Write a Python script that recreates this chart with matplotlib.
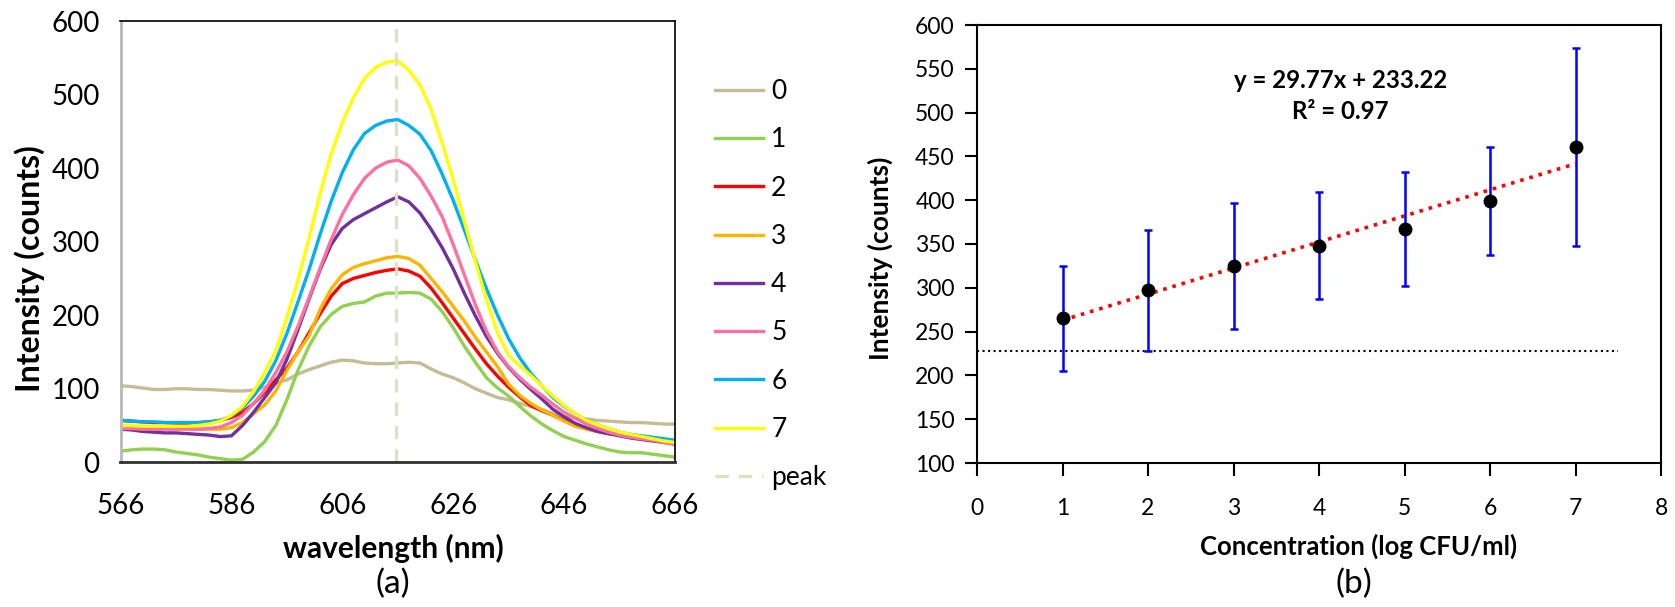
import matplotlib
matplotlib.use("Agg")
import matplotlib.pyplot as plt

plt.rcParams["font.family"] = ["Lato", "DejaVu Sans"]

# ---- (a) emission spectra, 2 nm steps ----
wavelength = list(range(566, 667, 2))

spec_0 = [104, 103, 101, 99, 99, 100, 100, 99, 99, 98, 97, 97, 98, 102, 108, 112, 120, 126,
          131, 136, 139, 138, 135, 134, 134, 135, 136, 135, 127, 120, 115, 108, 100, 94, 88, 85,
          80, 76, 72, 66, 62, 60, 59, 57, 56, 55, 54, 54, 53, 52, 52]
spec_1 = [15, 17, 18, 18, 17, 14, 12, 10, 7, 5, 3, 4, 14, 28, 50, 85, 125, 158,
          184, 201, 212, 216, 218, 226, 230, 230, 231, 230, 222, 205, 183, 158, 136, 115, 101, 90,
          76, 63, 52, 43, 35, 30, 25, 21, 17, 14, 13, 13, 11, 9, 7]
spec_2 = [57, 56, 55, 54, 54, 53, 53, 54, 55, 57, 61, 68, 80, 95, 112, 128, 150, 176,
          202, 226, 243, 250, 254, 258, 261, 263, 260, 253, 237, 217, 196, 175, 154, 134, 117, 102,
          89, 77, 70, 64, 57, 51, 46, 42, 39, 37, 35, 33, 31, 28, 25]
spec_3 = [48, 48, 47, 47, 47, 47, 46, 45, 45, 45, 47, 54, 66, 78, 97, 125, 150, 172,
          208, 236, 255, 265, 270, 274, 278, 280, 277, 268, 250, 232, 212, 192, 170, 150, 130, 106,
          91, 80, 71, 64, 56, 49, 45, 42, 39, 37, 35, 33, 31, 29, 27]
spec_4 = [45, 44, 42, 41, 40, 40, 39, 38, 37, 35, 36, 50, 68, 88, 108, 140, 180, 222,
          262, 296, 318, 330, 338, 346, 354, 361, 354, 339, 317, 292, 263, 230, 199, 171, 148, 129,
          113, 99, 86, 72, 62, 53, 47, 42, 39, 36, 33, 31, 29, 27, 25]
spec_5 = [46, 46, 45, 45, 45, 45, 45, 45, 46, 48, 54, 64, 80, 98, 122, 150, 185, 224,
          264, 303, 337, 364, 386, 400, 408, 411, 403, 386, 362, 334, 296, 255, 214, 178, 150, 130,
          115, 102, 91, 79, 68, 60, 52, 46, 41, 37, 34, 32, 30, 27, 24]
spec_6 = [57, 56, 55, 55, 54, 54, 54, 54, 55, 57, 63, 74, 90, 110, 138, 175, 218, 262,
          310, 355, 394, 425, 447, 458, 464, 466, 458, 446, 424, 392, 356, 316, 275, 236, 200, 168,
          142, 121, 104, 88, 76, 66, 57, 51, 46, 41, 38, 36, 34, 32, 30]
spec_7 = [50, 50, 49, 49, 49, 49, 49, 50, 52, 56, 64, 76, 96, 122, 152, 197, 248, 305,
          366, 420, 462, 496, 522, 537, 544, 546, 533, 513, 480, 434, 384, 328, 273, 221, 176, 145,
          131, 118, 104, 90, 77, 66, 57, 51, 46, 41, 38, 35, 32, 29, 27]
spectra = [spec_0, spec_1, spec_2, spec_3, spec_4, spec_5, spec_6, spec_7]
spec_labels = ["0", "1", "2", "3", "4", "5", "6", "7"]
spec_colors = ["#c4bc96", "#92d050", "#ff0000", "#ffb400", "#7030a0", "#ff6f9f", "#00b0f0", "#ffff00"]
peak_nm = 615.7

# ---- (b) calibration ----
conc = [1, 2, 3, 4, 5, 6, 7]
intensity = [265, 297, 325, 348, 367, 399, 461]
intensity_err = [60, 69, 72, 61, 65, 62, 113]
trend_slope = 29.77
trend_intercept = 233.22
blank_level = 228

fig = plt.figure(figsize=(16.75, 6.07), dpi=100)

# (a)
ax1 = fig.add_axes([120.5 / 1675, (607 - 462.3) / 607, 554.5 / 1675, 441.3 / 607])
for ys, lab, col in zip(spectra, spec_labels, spec_colors):
    ax1.plot(wavelength, ys, color=col, lw=2.4, label=lab)
ax1.axvline(peak_nm, color="#d7e4bd", lw=2.4, ls=(0, (4, 3)), label="peak")
ax1.set_xlim(566, 666)
ax1.set_ylim(0, 600)
ax1.set_xticks([566, 586, 606, 626, 646, 666])
ax1.set_yticks(range(0, 601, 100))
ax1.tick_params(length=0, labelsize=20)
ax1.tick_params(axis="y", pad=15)
ax1.tick_params(axis="x", pad=22)
ax1.spines["left"].set_color("#b8b8b8")
ax1.spines["left"].set_linewidth(2)
ax1.spines["bottom"].set_color("#303030")
ax1.spines["bottom"].set_linewidth(2)
for s in ("top", "right"):
    ax1.spines[s].set_linewidth(1.2)
ax1.legend(loc="upper left", bbox_to_anchor=(702 / 1675, 1 - 66 / 607),
           bbox_transform=fig.transFigure, frameon=False, fontsize=19,
           handlelength=1.82, handletextpad=0.3, labelspacing=0.88, borderpad=0)

fig.text(30 / 1675, 1 - 269 / 607, "Intensity (counts)", rotation=90, ha="center", va="center",
         fontsize=23, fontweight="bold")
fig.text(393 / 1675, 1 - 548 / 607, "wavelength (nm)", ha="center", va="center",
         fontsize=21.5, fontweight="bold")
fig.text(393 / 1675, 1 - 584 / 607, "(a)", ha="center", va="center", fontsize=24)

# (b)
ax2 = fig.add_axes([977 / 1675, (607 - 463) / 607, 684 / 1675, 438 / 607])
ax2.plot([0, 7.5], [blank_level, blank_level], color="black", ls=":", lw=1.5)
tx = [conc[0], conc[-1]]
ax2.plot(tx, [trend_slope * v + trend_intercept for v in tx], color="red", ls=":", lw=2.6)
ax2.errorbar(conc, intensity, yerr=intensity_err, fmt="o", color="black", ms=9,
             ecolor="#0000ff", elinewidth=1.8, capsize=3, capthick=1.8, zorder=3)
ax2.set_xlim(0, 8)
ax2.set_ylim(100, 600)
ax2.set_xticks(range(0, 9))
ax2.set_yticks(range(100, 601, 50))
ax2.tick_params(direction="out", length=9, width=1.5, labelsize=16.5)
ax2.tick_params(axis="y", pad=7)
ax2.tick_params(axis="x", pad=16)
for s in ax2.spines.values():
    s.set_linewidth(1.5)
ax2.text(4.25, 537, "y = 29.77x + 233.22", ha="center", va="center", fontsize=17.3, fontweight="bold")
ax2.text(4.25, 501, "R² = 0.97", ha="center", va="center", fontsize=17.3, fontweight="bold")

fig.text(880 / 1675, 1 - 258 / 607, "Intensity (counts)", rotation=90, ha="center", va="center",
         fontsize=19, fontweight="bold")
fig.text(1359 / 1675, 1 - 546 / 607, "Concentration (log CFU/ml)", ha="center", va="center",
         fontsize=18.5, fontweight="bold")
fig.text(1354 / 1675, 1 - 584 / 607, "(b)", ha="center", va="center", fontsize=24)

fig.savefig("out.png", dpi=100)
plt.close(fig)
